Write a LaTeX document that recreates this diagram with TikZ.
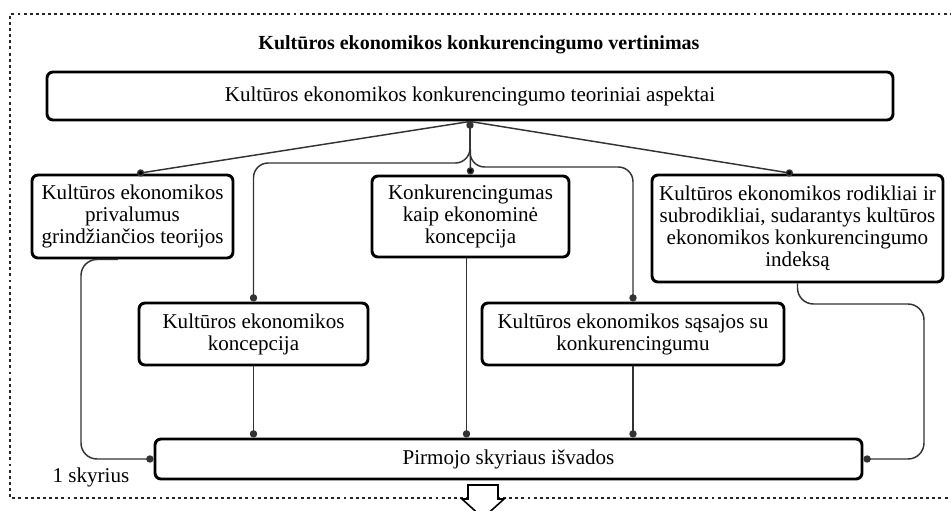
\documentclass[tikz,border=0pt]{standalone}
\usepackage{fontspec}
\setmainfont{Liberation Serif}
\usetikzlibrary{arrows.meta}

\begin{document}
\begin{tikzpicture}
[x=0.75pt,y=-0.75pt,
link/.style={draw=black!80,line width=1.1pt,-{Circle[length=5.5pt]}},
topic/.style={draw,line width=2.2pt,rounded corners=4.5pt,align=center,inner sep=2pt,
  font=\fontsize{15.8pt}{16.5pt}\selectfont},
frame/.style={draw=black!85,line width=2.2pt,dash pattern=on 2.2pt off 2.4pt}]
\useasboundingbox (0,0) rectangle (951,511);
\draw[frame] (965,14) -- (10,14) -- (10,498) -- (965,498);

\node[font=\fontsize{15pt}{16pt}\selectfont\bfseries] at (479,45) (title)
  {Kultūros ekonomikos konkurencingumo vertinimas};
\node[topic,minimum width=634.5pt,minimum height=36pt] at (470,96) (T)
  {Kultūros ekonomikos konkurencingumo teoriniai aspektai};
\node[topic,minimum width=150.75pt,minimum height=62.25pt] at (132.5,216.5) (A)
  {Kultūros ekonomikos\\ privalumus\\ grindžiančios teorijos};
\node[topic,minimum width=147.75pt,minimum height=60.75pt] at (470.5,216.5) (C)
  {Konkurencingumas\\ kaip ekonominė\\ koncepcija};
\node[topic,minimum width=218.25pt,minimum height=80.25pt] at (797.5,228.5) (D)
  {Kultūros ekonomikos rodikliai ir\\ subrodikliai, sudarantys kultūros\\ ekonomikos konkurencingumo\\ indeksą};
\node[topic,minimum width=171.75pt,minimum height=46.5pt] at (253.5,334) (B)
  {Kultūros ekonomikos\\ koncepcija};
\node[topic,minimum width=226.5pt,minimum height=46.5pt] at (633,334) (E)
  {Kultūros ekonomikos sąsajos su\\ konkurencingumu};
\node[topic,minimum width=530.25pt,minimum height=30pt] at (508.5,459) (P)
  {Pirmojo skyriaus išvados};
\node[font=\fontsize{15.8pt}{16.5pt}\selectfont] at (91,477) (chap) {1 skyrius};

\coordinate (hubL) at (0,163);
\coordinate (hubR) at (0,167);
\coordinate (lft) at (81,400);
\coordinate (rgt) at (924,304);

% from the aspects box down to the topics
\path [link] (T.south) edge ([xshift=3.4pt]A.north)
                       edge (C.north)
                       edge ([xshift=-3.4pt]D.north);
\draw [link,rounded corners=11pt] (T.south) |- (B.north |- hubL) -- (B.north);
\draw [link,rounded corners=11pt] (T.south) |- (E.north |- hubR) -- (E.north);

% from the topics down to the conclusions
\draw [link] (B.south) -- (B.south |- P.north);
\draw [link] ([xshift=-3pt]C.south) -- ([xshift=-3pt]C.south |- P.north);
\draw [link] (E.south) -- (E.south |- P.north);
\draw [link,rounded corners=12pt] ([xshift=-11pt]A.south) -| (lft) |- (P.west);
\draw [link,rounded corners=12pt] (D.south) |- (rgt) |- (P.east);

\draw [line width=1.2pt,fill=white] (468,485) -- (498,485) -- (498,499) -- (504,499)
  -- (483,518) -- (462,499) -- (468,499) -- cycle;
\end{tikzpicture}
\end{document}
